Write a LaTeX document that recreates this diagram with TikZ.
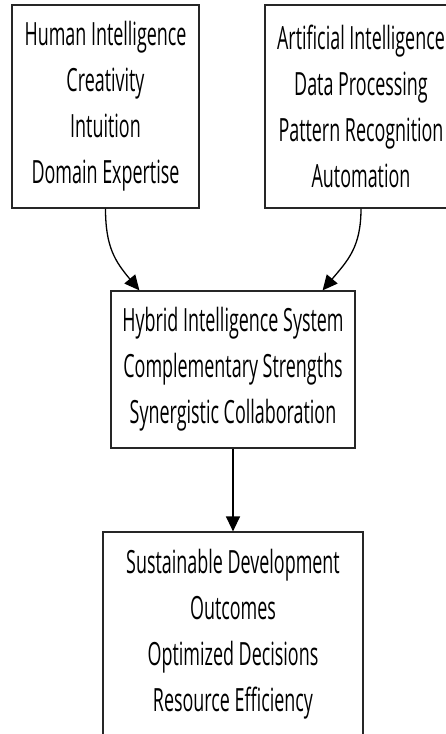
\documentclass[tikz,border=0pt]{standalone}
\usepackage{fontspec}
\setmainfont[FakeStretch=0.56]{Open Sans}
\usetikzlibrary{arrows.meta}

\begin{document}
\begin{tikzpicture}[x=1pt,y=1pt,->,>={Triangle[width=14pt,length=15pt]},semithick]
            \tikzset{box/.style={shape=rectangle,draw=black!85,line width=1.2pt,align=center,inner sep=0pt,font=\fontsize{32}{46}\selectfont}}
            \useasboundingbox (0,0) rectangle (445,734);
            \node[box,minimum width=187pt,minimum height=203pt](human)at(105.5, 627.5){Human Intelligence\\Creativity\\Intuition\\Domain Expertise};
            \node[box,minimum width=192pt,minimum height=203pt](ai)at(361, 627.5){Artificial Intelligence\\Data Processing\\Pattern Recognition\\Automation};
            \node[box,minimum width=244pt,minimum height=157pt](hybrid)at(233, 364.5){Hybrid Intelligence System\\Complementary Strengths\\Synergistic Collaboration};
            \node[box,minimum width=260pt,minimum height=204pt](sdg)at(233, 100){Sustainable Development\\Outcomes\\Optimized Decisions\\Resource Efficiency};
            \path[line width=1.3pt](human.south) edge[out=-90,in=130,looseness=1.1] ([xshift=29pt]hybrid.north west)
            (ai.south) edge[out=-90,in=50,looseness=1.1] ([xshift=-33pt]hybrid.north east)
            (hybrid.south) edge (sdg.north);
        \end{tikzpicture}
\end{document}
